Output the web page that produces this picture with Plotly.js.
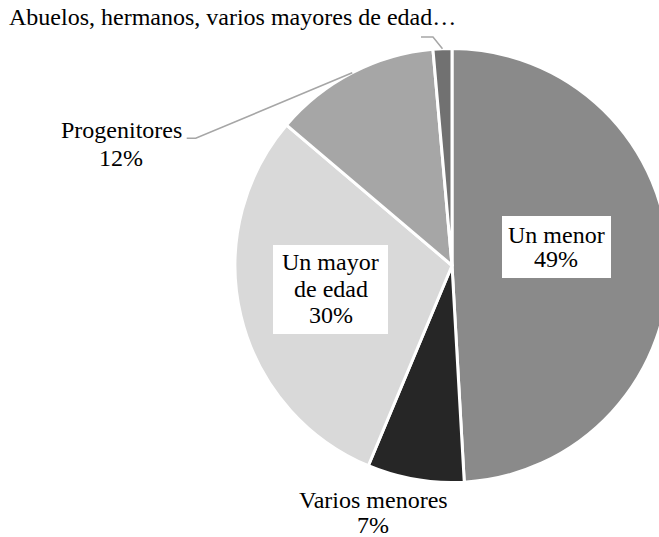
<!DOCTYPE html>
<html><head><meta charset="utf-8">
<script src="https://cdn.plot.ly/plotly-3.0.1.min.js"></script>
<style>html,body{margin:0;padding:0;overflow:hidden;background:#fff}#chart{width:680px;height:537px}</style>
</head><body><div id="chart"></div>
<script>
// ---- data ----
const labels = ["Un menor", "Varios menores", "Un mayor de edad", "Progenitores", "Abuelos, hermanos, varios mayores de edad"];
const values = [49.1, 7.2, 29.9, 12.4, 1.4];
const colors = ["#8a8a8a", "#262626", "#d9d9d9", "#a6a6a6", "#717171"];
const labelLines = [["Un menor"], ["Varios menores"], ["Un mayor", "de edad"], ["Progenitores"], ["Abuelos, hermanos, varios mayores de edad…"]];
const showPct = [true, true, true, true, false];

// ---- geometry / layout ----
const W = 680, H = 537;
const cx = 452, cy = 265.5, R = 217;
const px = x => x / W, py = y => 1 - y / H;
const FONT = "'Times New Roman', 'Liberation Serif', 'DejaVu Serif', serif";
const FS = 24;

const total = values.reduce((a, b) => a + b, 0);
const pct = values.map(v => Math.round(v / total * 100) + "%");
const cum = [];
values.reduce((acc, v, i) => { cum[i] = acc; return acc + v; }, 0);
const midAngle = values.map((v, i) => (cum[i] + v / 2) / total * 2 * Math.PI);
const edgePt = i => [cx + R * Math.sin(midAngle[i]), cy - R * Math.cos(midAngle[i])];

// label placement (pixel positions of text centres / baselines, optional white box)
const place = [
  {x: 556, base: [242.7, 267.3], box: [502, 611, 216, 278]},
  {x: 373, base: [508, 533]},
  {x: 330.5, base: [270, 296.5, 323], box: [273, 388, 245, 334]},
  {x: 121, base: [138, 166], leader: [[186.7, 138.3], [195.7, 138.3]]},
  {x: 232, base: [25], leader: [[421, 37], [433, 37]]}
];

const annotations = [];
const shapes = [];
place.forEach((p, i) => {
  const lines = labelLines[i].concat(showPct[i] ? [pct[i]] : []);
  if (p.box) {
    shapes.push({type: "rect", xref: "paper", yref: "paper", layer: "above",
      x0: px(p.box[0]), x1: px(p.box[1]), y0: py(p.box[3]), y1: py(p.box[2]),
      fillcolor: "#ffffff", line: {width: 0}});
  }
  if (p.leader) {
    const pts = p.leader.concat([edgePt(i)]);
    const d = pts.map((q, k) => (k ? "L" : "M") + px(q[0]).toFixed(5) + "," + py(q[1]).toFixed(5)).join(" ");
    shapes.push({type: "path", xref: "paper", yref: "paper", layer: "above", path: d,
      line: {color: "#a6a6a6", width: 1.5}});
  }
  lines.forEach((t, k) => {
    annotations.push({xref: "paper", yref: "paper", x: px(p.x), y: py(p.base[k] - 8),
      xanchor: "center", yanchor: "middle", showarrow: false, text: t,
      font: {family: FONT, size: FS, color: "#000000"}});
  });
});

const trace = {
  type: "pie", labels: labels, values: values, sort: false, direction: "clockwise", rotation: 0,
  textinfo: "none", hoverinfo: "label+percent",
  marker: {colors: colors, line: {color: "#ffffff", width: 3}},
  domain: {x: [(cx - R) / W, (cx + R) / W], y: [py(cy + R), py(cy - R)]}
};

Plotly.newPlot("chart", [trace], {
  width: W, height: H, margin: {l: 0, r: 0, t: 0, b: 0},
  paper_bgcolor: "#ffffff", showlegend: false,
  font: {family: FONT},
  annotations: annotations, shapes: shapes
}, {staticPlot: true});
</script></body></html>
